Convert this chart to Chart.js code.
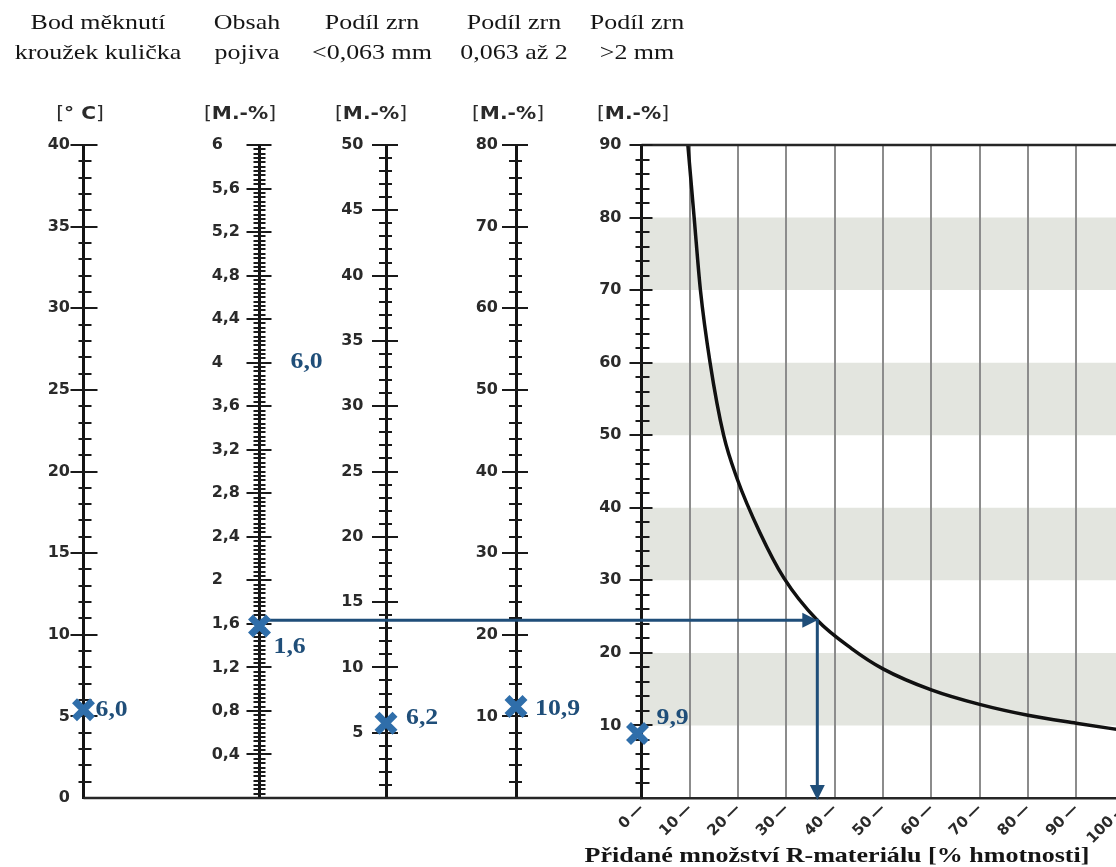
<!DOCTYPE html>
<html lang="cs">
<head>
<meta charset="UTF-8">
<title>Nomogram – přidané množství R-materiálu</title>
<script src="https://cdn.jsdelivr.net/npm/chart.js"></script>
<style>
  html, body { margin: 0; padding: 0; background: #fff; }
  #wrap { position: relative; width: 1116px; height: 867px; overflow: hidden; background: #fff; }
  #nomo { position: absolute; left: 0; top: 0; }
  .head { position: absolute; width: 220px; text-align: center; font-family: "Liberation Serif", serif;
          font-size: 22px; line-height: 30px; color: #151515; transform: scaleX(1.18); white-space: nowrap; }
  .unit { position: absolute; width: 120px; text-align: center; font-family: "DejaVu Sans", sans-serif;
          font-size: 18px; line-height: 20px; color: #2a2a2a; transform: scaleX(1.12); white-space: nowrap; }
  .unit b { font-weight: bold; }
  #xtitle { position: absolute; left: 437px; top: 842px; width: 800px; text-align: center;
            font-family: "Liberation Serif", serif; font-weight: bold; font-size: 21px; line-height: 26px;
            color: #151515; transform: scaleX(1.24); white-space: nowrap; }
</style>
</head>
<body>
<div id="wrap">
  <canvas id="nomo" width="1130" height="867"></canvas>

  <div class="head" style="left:-12px; top:7px">Bod měknutí<br>kroužek kulička</div>
  <div class="head" style="left:137px; top:7px">Obsah<br>pojiva</div>
  <div class="head" style="left:262px; top:7px">Podíl zrn<br>&lt;0,063 mm</div>
  <div class="head" style="left:404px; top:7px">Podíl zrn<br>0,063 až 2</div>
  <div class="head" style="left:527px; top:7px">Podíl zrn<br>&gt;2 mm</div>

  <div class="unit" style="left:20px; top:103px">[<b>° C</b>]</div>
  <div class="unit" style="left:180px; top:103px">[<b>M.-%</b>]</div>
  <div class="unit" style="left:311px; top:103px">[<b>M.-%</b>]</div>
  <div class="unit" style="left:448px; top:103px">[<b>M.-%</b>]</div>
  <div class="unit" style="left:573px; top:103px">[<b>M.-%</b>]</div>

  <div id="xtitle">Přidané množství R-materiálu [% hmotnosti]</div>
</div>

<script>
  // Popisky stupnic
  const softTicks = [0, 5, 10, 15, 20, 25, 30, 35, 40];                 // bod měknutí [°C]
  const binderTicks = [0.4, 0.8, 1.2, 1.6, 2, 2.4, 2.8, 3.2, 3.6, 4, 4.4, 4.8, 5.2, 5.6, 6]; // obsah pojiva
  const fineTicks = [5, 10, 15, 20, 25, 30, 35, 40, 45, 50];            // < 0,063 mm
  const midTicks = [10, 20, 30, 40, 50, 60, 70, 80];                    // 0,063 až 2
  const coarseTicks = [10, 20, 30, 40, 50, 60, 70, 80, 90];             // > 2 mm
  const addedTicks = [0, 10, 20, 30, 40, 50, 60, 70, 80, 90, 100];      // přidané množství

  // Křivka (x = přidané množství, y = podíl > 2 mm)
  const curveX = [9.6, 10.9, 12.2, 14.2, 17.0, 19.8, 24.5, 29.5, 36.4, 43.5, 50, 60, 70, 80, 90, 100];
  const curveY = [90, 80, 70, 60, 50, 44, 36.6, 30.3, 24.5, 20.6, 17.8, 14.9, 12.9, 11.4, 10.3, 9.3];

  // Šedé pásy
  const bandLow = [10, 30, 50, 70];
  const bandHigh = [20, 40, 60, 80];

  // Vyznačené hodnoty
  const markAxes = ['soft', 'binder', 'fine', 'mid', 'y'];
  const markValues = [5.4, 1.58, 5.72, 11.2, 8.9];
  const markLabels = ['6,0', '1,6', '6,2', '10,9', '9,9'];
  const strayAxis = 'binder', strayValue = 4.0, strayLabel = '6,0';

  // Odečet
  const arrowLevel = 24.5;   // na stupnici > 2 mm
  const arrowX = 36.4;       // na ose přidaného množství

  const tickFont = { family: 'DejaVu Sans', size: 16, weight: 'bold' };
  const fmt = v => Number.isInteger(v) ? String(v) : v.toFixed(1).replace('.', ',');

  function sideAxis(min, max, values, weight, width, pad, callback) {
    return {
      type: 'linear', position: 'left', min: min, max: max, weight: weight,
      afterBuildTicks: s => { s.ticks = values.map(v => ({ value: v })); },
      afterFit: s => { s.width = width; s.paddingTop = 0; s.paddingBottom = 0; },
      grid: { display: false, drawOnChartArea: false, drawTicks: false },
      border: { display: true, color: '#141414', width: 3 },
      ticks: { padding: pad, color: '#2a2a2a', font: tickFont, autoSkip: false, callback: callback || fmt }
    };
  }

  // rysky na obou stranách os
  const tickSets = [
    { axis: 'soft', minor: 1, major: softTicks, majL: 13, majR: 14, minL: 5, minR: 8 },
    { axis: 'binder', minor: 0.04, major: binderTicks, majL: 13, majR: 12, minL: 6, minR: 6 },
    { axis: 'fine', minor: 1, major: fineTicks, majL: 14, majR: 12, minL: 7, minR: 6 },
    { axis: 'mid', minor: 2, major: midTicks, majL: 14, majR: 12, minL: 7, minR: 6 },
    { axis: 'y', minor: 2, major: coarseTicks, majL: 12, majR: 11, minL: 6, minR: 8 }
  ];
  const markOffsets = [[12, 0], [14, 21], [20, -5], [19, 2], [15, -15]];
  const markShift = [0, 0, 0, 0, -4];

  function arrowHead(ctx, x, y, dir) {
    const len = 15, half = 7.5;
    ctx.beginPath();
    if (dir === 'right') {
      ctx.moveTo(x, y); ctx.lineTo(x - len, y - half); ctx.lineTo(x - len, y + half);
    } else {
      ctx.moveTo(x, y); ctx.lineTo(x - half, y - len); ctx.lineTo(x + half, y - len);
    }
    ctx.closePath();
    ctx.fill();
  }

  const nomogram = {
    id: 'nomogram',
    afterDraw(chart) {
      const { ctx, chartArea, scales } = chart;
      ctx.save();

      // rámeček: horní čára grafu a spodní čára vlevo
      ctx.strokeStyle = '#262626';
      ctx.lineWidth = 2.5;
      ctx.beginPath();
      ctx.moveTo(chartArea.left, chartArea.top);
      ctx.lineTo(chart.width, chartArea.top);
      ctx.moveTo(scales.soft.right, chartArea.bottom);
      ctx.lineTo(chartArea.left, chartArea.bottom);
      ctx.stroke();

      // rysky
      ctx.strokeStyle = '#1a1a1a';
      ctx.lineWidth = 2;
      tickSets.forEach(t => {
        const s = scales[t.axis];
        const x = s.right;
        ctx.beginPath();
        for (let k = 1; k * t.minor <= s.max + 1e-9; k++) {
          const v = k * t.minor;
          const major = t.major.some(m => Math.abs(m - v) < 1e-6);
          const y = Math.round(s.getPixelForValue(v));
          ctx.moveTo(x - (major ? t.majL : t.minL), y);
          ctx.lineTo(x + (major ? t.majR : t.minR), y);
        }
        ctx.stroke();
      });

      // odečítací šipky
      const yl = scales.y.getPixelForValue(arrowLevel);
      const xa = scales.x.getPixelForValue(arrowX);
      ctx.strokeStyle = '#1f4e79';
      ctx.fillStyle = '#1f4e79';
      ctx.lineWidth = 3;
      ctx.beginPath();
      ctx.moveTo(scales.binder.right, yl);
      ctx.lineTo(xa - 12, yl);
      ctx.moveTo(xa, yl - 1.5);
      ctx.lineTo(xa, chartArea.bottom - 12);
      ctx.stroke();
      arrowHead(ctx, xa, yl, 'right');
      arrowHead(ctx, xa, chartArea.bottom + 2, 'down');

      // značky
      ctx.strokeStyle = '#2f6eaa';
      ctx.lineWidth = 7;
      ctx.lineCap = 'butt';
      markAxes.forEach((a, i) => {
        const s = scales[a];
        const x = s.right + markShift[i];
        const y = s.getPixelForValue(markValues[i]);
        const r = 9;
        ctx.beginPath();
        ctx.moveTo(x - r, y - r); ctx.lineTo(x + r, y + r);
        ctx.moveTo(x + r, y - r); ctx.lineTo(x - r, y + r);
        ctx.stroke();
      });

      // popisky značek
      ctx.fillStyle = '#1f4e79';
      ctx.font = 'bold 23px "Liberation Serif"';
      ctx.textAlign = 'left';
      ctx.textBaseline = 'middle';
      const label = (text, x, y) => {
        ctx.save();
        ctx.translate(x, y);
        ctx.scale(1.12, 1);
        ctx.fillText(text, 0, 0);
        ctx.restore();
      };
      markAxes.forEach((a, i) => {
        const s = scales[a];
        label(markLabels[i], s.right + markOffsets[i][0], s.getPixelForValue(markValues[i]) + markOffsets[i][1]);
      });
      label(strayLabel, scales[strayAxis].right + 31, scales[strayAxis].getPixelForValue(strayValue) - 1);

      ctx.restore();
    }
  };

  const bands = bandLow.map((lo, i) => ({
    xAxisID: 'x',
    yAxisID: 'y',
    data: [{ x: 0, y: bandHigh[i] }, { x: 100, y: bandHigh[i] }],
    borderWidth: 0,
    pointRadius: 0,
    backgroundColor: '#e3e5df',
    fill: { value: lo }
  }));

  new Chart(document.getElementById('nomo'), {
    type: 'line',
    data: {
      datasets: [
        ...bands,
        {
          xAxisID: 'x',
          yAxisID: 'y',
          data: curveX.map((x, i) => ({ x: x, y: curveY[i] })),
          borderColor: '#111',
          borderWidth: 3.5,
          pointRadius: 0,
          fill: false,
          cubicInterpolationMode: 'monotone'
        }
      ]
    },
    options: {
      responsive: false,
      animation: false,
      devicePixelRatio: 1,
      layout: { padding: { left: 0, top: 145, right: 5.5, bottom: 0 } },
      plugins: {
        legend: { display: false },
        tooltip: { enabled: false },
        filler: { drawTime: 'beforeDraw' }
      },
      scales: {
        x: {
          type: 'linear', position: 'bottom', min: 0, max: 100,
          afterBuildTicks: s => { s.ticks = addedTicks.map(v => ({ value: v })); },
          afterFit: s => { s.height = 69; s.paddingLeft = 0; s.paddingRight = 0; },
          grid: {
            color: c => c.tick && c.tick.value === 0 ? 'rgba(0,0,0,0)' : '#8c8c8c',
            lineWidth: 2,
            drawTicks: false
          },
          border: { display: true, color: '#262626', width: 2.5 },
          ticks: {
            minRotation: 45, maxRotation: 45, autoSkip: false, padding: 2,
            color: '#2a2a2a', font: { family: 'DejaVu Sans', size: 15, weight: 'bold' },
            callback: v => v + '\u2009\u2014'
          }
        },
        soft: sideAxis(0, 40, softTicks, 4, 83.5, 13.5),
        binder: sideAxis(0, 6, binderTicks, 3, 176, 19.5,
          v => Number.isInteger(v) ? v + '\u2008\u2007' : fmt(v)),
        fine: sideAxis(0, 50, fineTicks, 2, 126.5, 22.5),
        mid: sideAxis(0, 80, midTicks, 1, 130, 18),
        y: sideAxis(0, 90, coarseTicks, 0, 125.5, 20)
      }
    },
    plugins: [nomogram]
  });
</script>
</body>
</html>
